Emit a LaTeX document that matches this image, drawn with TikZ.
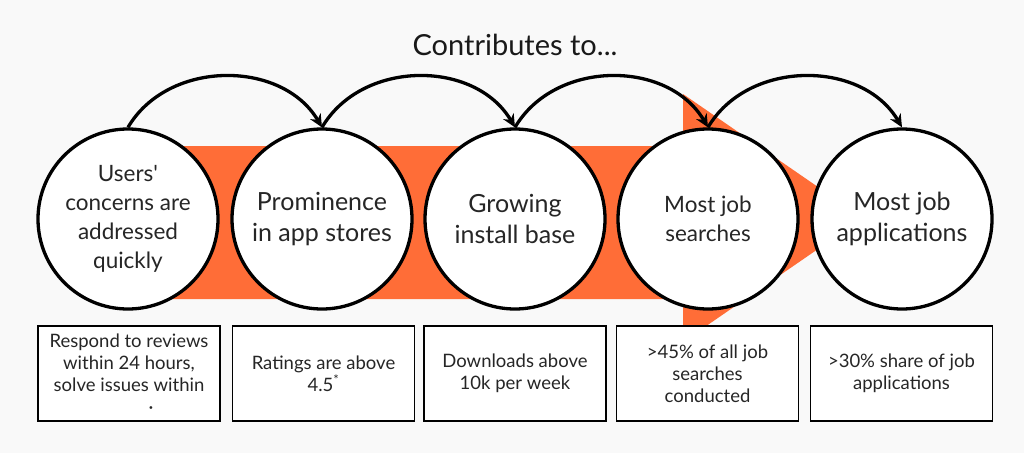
\documentclass[tikz,border=0pt]{standalone}
\usepackage{fontspec}
\setmainfont{Lato}
\usetikzlibrary{arrows.meta}
\definecolor{bgcol}{HTML}{F9F9F9}
\definecolor{orangecol}{HTML}{FF6D37}
\tikzset{
  stagecircle/.style={circle, draw=black, fill=white, line width=3.3pt, minimum size=180pt, inner sep=0pt, align=center, text=black!85},
  bigtext/.style={font=\fontsize{25}{31}\selectfont},
  midtext/.style={font=\fontsize{22.5}{29}\selectfont},
  metricbox/.style={rectangle, draw=black, fill=white, line width=1.3pt, minimum width=182pt, minimum height=95pt, inner sep=0pt, align=center, text=black!85, font=\fontsize{18.5}{22}\selectfont},
  contrib/.style={line width=3.3pt, -{Stealth[length=13pt,width=12pt]}}
}
\begin{document}
\begin{tikzpicture}[x=1pt,y=-1pt]
\fill[bgcol] (0,0) rectangle (1024,453);
\useasboundingbox (0,0) rectangle (1024,453);
% big orange arrow
\fill[orangecol] (128,146) -- (683,146) -- (683,94) -- (863,218) -- (683,342) -- (683,299) -- (128,299) -- cycle;
% title
\node[font=\fontsize{29}{34}\selectfont, text=black!90] (title) at (515,45) {Contributes to...};
% circles
\node[stagecircle, midtext] (c1) at (128,219) {Users\textquotesingle\\concerns are\\addressed\\quickly};
\node[stagecircle, bigtext] (c2) at (322,219) {Prominence\\in app stores};
\node[stagecircle, bigtext] (c3) at (515,219) {Growing\\install base};
\node[stagecircle, midtext] (c4) at (708,219) {Most job\\searches};
\node[stagecircle, bigtext] (c5) at (902,219) {Most job\\applications};
% boxes
\node[metricbox] (b1) at (129,373.5) {Respond to reviews\\within 24 hours,\\solve issues within\\\hspace*{44pt}\textperiodcentered};
\node[metricbox] (b2) at (323.5,373.5) {Ratings are above\\4.5\textsuperscript{*}};
\node[metricbox] (b3) at (515,373.5) {Downloads above\\10k per week};
\node[metricbox] (b4) at (707.5,373.5) {>45\% of all job\\searches\\conducted};
\node[metricbox] (b5) at (901.5,373.5) {>30\% share of job\\applications};
% contributes arcs
\foreach \a/\b in {c1/c2, c2/c3, c3/c4, c4/c5}{
  \draw[contrib] (\a.north) .. controls ([xshift=40pt,yshift=68pt]\a.north) and ([xshift=-40pt,yshift=68pt]\b.north) .. (\b.north);
}
\end{tikzpicture}
\end{document}
